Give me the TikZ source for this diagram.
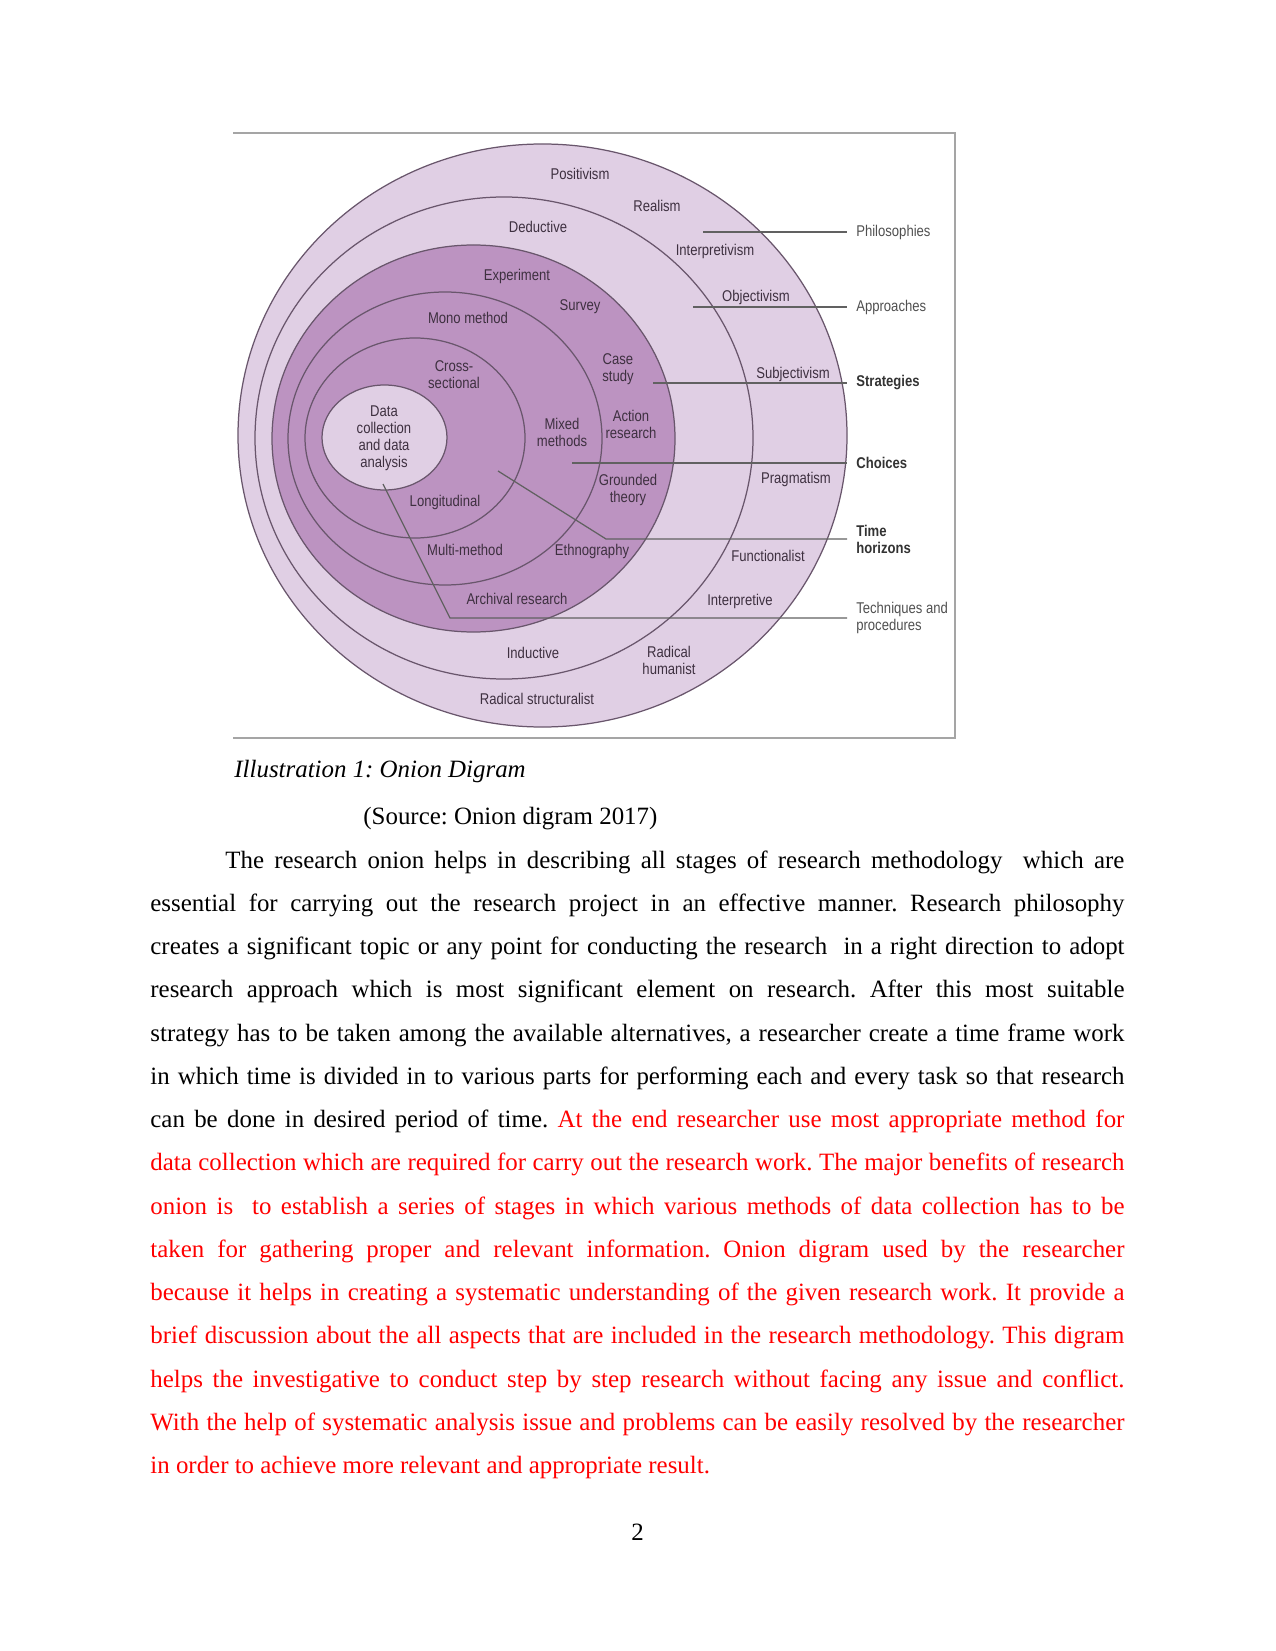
\documentclass[tikz,border=0pt]{standalone}
\usepackage{fontspec}
\setmainfont{Liberation Serif}
\newfontfamily\onionfont[FakeStretch=0.84]{Liberation Sans}
\usepackage{tikz}
\frenchspacing

\definecolor{onionlight}{RGB}{224,207,228}
\definecolor{oniondark}{RGB}{188,147,193}
\definecolor{onionline}{RGB}{105,86,108}
\definecolor{onionlabel}{RGB}{62,48,64}
\definecolor{sidelabel}{RGB}{80,80,80}
\definecolor{framegray}{RGB}{165,165,165}

\newlength\fullline \setlength\fullline{469.3pt}
\newlength\firstline \setlength\firstline{433.1pt}

\tikzset{
  ring/.style={draw=onionline, line width=0.6pt},
  lbl/.style={font=\onionfont\fontsize{7.5}{8.2}\selectfont, text=onionlabel, inner sep=0pt, align=center},
  side/.style={font=\onionfont\fontsize{7.5}{8.2}\selectfont, text=sidelabel, anchor=west, inner sep=4.3pt, align=left},
  leader/.style={draw=black!62, line width=0.6pt},
  body/.style={anchor=base west, inner sep=0pt, font=\fontsize{12}{14}\selectfont},
}

\begin{document}
\begin{tikzpicture}[x=0.4818pt, y=-0.4818pt]
  \useasboundingbox (0,0) rectangle (1275,1651);

  % cadre
  \draw[framegray, line width=1pt] (233,133) -- (955,133) -- (955,738) -- (233,738);

  % couches
  \filldraw[ring, fill=onionlight] (542.5,435.5) ellipse [x radius=304.5, y radius=291.5];
  \filldraw[ring, fill=onionlight] (504,438) ellipse [x radius=249, y radius=241];
  \filldraw[ring, fill=oniondark] (473.5,438.5) ellipse [x radius=201.5, y radius=193.5];
  \filldraw[ring, fill=oniondark] (445,438.5) ellipse [x radius=157, y radius=146.5];
  \filldraw[ring, fill=oniondark] (415,438) ellipse [x radius=110, y radius=100];
  \filldraw[ring, fill=onionlight] (384.5,437.5) ellipse [x radius=62.5, y radius=52.5];

  % legende a droite
  \node[side] (philosophies) at (847,232) {Philosophies};
  \node[side] (approaches) at (847,307) {Approaches};
  \node[side, text=black!80, font=\onionfont\bfseries\fontsize{7.5}{8.2}\selectfont] (strategies) at (847,383) {Strategies};
  \node[side, text=black!80, font=\onionfont\bfseries\fontsize{7.5}{8.2}\selectfont] (choices) at (847,463) {Choices};
  \node[side, text=black!80, font=\onionfont\bfseries\fontsize{7.5}{8.2}\selectfont] (horizons) at (847,539) {Time\\horizons};
  \node[side] (techniques) at (847,618) {Techniques and\\procedures};

  % traits
  \coordinate (phil-in) at (703,232);
  \coordinate (appr-in) at (693,307);
  \coordinate (strat-in) at (653,383);
  \coordinate (choice-in) at (572,463);
  \coordinate (time-in) at (498,471);
  \coordinate (time-bend) at (606,539);
  \coordinate (tech-in) at (383,484);
  \coordinate (tech-bend) at (450,618);
  \draw[leader] (phil-in) -- (philosophies.west);
  \draw[leader] (appr-in) -- (approaches.west);
  \draw[leader] (strat-in) -- (strategies.west);
  \draw[leader] (choice-in) -- (choices.west);
  \draw[leader] (time-in) -- (time-bend) -- (horizons.west);
  \draw[leader] (tech-in) -- (tech-bend) -- (techniques.west);

  % philosophies
  \node[lbl] (positivism) at (580,174) {Positivism};
  \node[lbl] (realism) at (657,206) {Realism};
  \node[lbl] (interpretivism) at (715,251) {Interpretivism};
  \node[lbl] (objectivism) at (756,297) {Objectivism};
  \node[lbl] (subjectivism) at (793,374) {Subjectivism};
  \node[lbl] (pragmatism) at (796,479) {Pragmatism};
  \node[lbl] (functionalist) at (768,556) {Functionalist};
  \node[lbl] (interpretive) at (740,601) {Interpretive};
  \node[lbl] (radhumanist) at (669,660) {Radical\\humanist};
  \node[lbl] (radstruct) at (537,699) {Radical structuralist};

  % approaches
  \node[lbl] (deductive) at (538,227) {Deductive};
  \node[lbl] (inductive) at (533,653) {Inductive};

  % strategies
  \node[lbl] (experiment) at (517,276) {Experiment};
  \node[lbl] (survey) at (580,307) {Survey};
  \node[lbl] (casestudy) at (618,369) {Case\\study};
  \node[lbl] (action) at (631,424) {Action\\research};
  \node[lbl] (grounded) at (628,490) {Grounded\\theory};
  \node[lbl] (ethno) at (592,551) {Ethnography};
  \node[lbl] (archival) at (517,599) {Archival research};

  % choices
  \node[lbl] (mono) at (468,318) {Mono method};
  \node[lbl] (mixed) at (562,432) {Mixed\\methods};
  \node[lbl] (multi) at (465,550) {Multi-method};

  % time horizons
  \node[lbl] (cross) at (454,375) {Cross-\\sectional};
  \node[lbl] (longitudinal) at (445,502) {Longitudinal};

  % centre
  \node[lbl] (datacoll) at (384,438) {Data\\collection\\and data\\analysis};

  % legende de la figure
  \node[body] (caption) at (234,777) {\itshape Illustration 1: Onion Digram};
  \node[body] (source) at (363,824) {(Source: Onion digram 2017)};

  % texte
  \node[body] (l1) at (225,868) {\makebox[\firstline][s]{The research onion helps in describing all stages of research methodology\ \ which are}};
  \node[body] (l2) at (150,911.25) {\makebox[\fullline][s]{essential for carrying out the research project in an effective manner. Research philosophy}};
  \node[body] (l3) at (150,954.5) {\makebox[\fullline][s]{creates a significant topic or any point for conducting the research\ \ in a right direction to adopt}};
  \node[body] (l4) at (150,997.75) {\makebox[\fullline][s]{research approach which is most significant element on research. After this most suitable}};
  \node[body] (l5) at (150,1041) {\makebox[\fullline][s]{strategy has to be taken among the available alternatives, a researcher create a time frame work}};
  \node[body] (l6) at (150,1084.25) {\makebox[\fullline][s]{in which time is divided in to various parts for performing each and every task so that research}};
  \node[body] (l7) at (150,1127.5) {\makebox[\fullline][s]{can be done in desired period of time. \color{red}At the end researcher use most appropriate method for}};
  \node[body, text=red] (l8) at (150,1170.75) {\makebox[\fullline][s]{data collection which are required for carry out the research work. The major benefits of research}};
  \node[body, text=red] (l9) at (150,1214) {\makebox[\fullline][s]{onion is\ \ to establish a series of stages in which various methods of data collection has to be}};
  \node[body, text=red] (l10) at (150,1257.25) {\makebox[\fullline][s]{taken for gathering proper and relevant information. Onion digram used by the researcher}};
  \node[body, text=red] (l11) at (150,1300.5) {\makebox[\fullline][s]{because it helps in creating a systematic understanding of the given research work. It provide a}};
  \node[body, text=red] (l12) at (150,1343.75) {\makebox[\fullline][s]{brief discussion about the all aspects that are included in the research methodology. This digram}};
  \node[body, text=red] (l13) at (150,1387) {\makebox[\fullline][s]{helps the investigative to conduct step by step research without facing any issue and conflict.}};
  \node[body, text=red] (l14) at (150,1430.25) {\makebox[\fullline][s]{With the help of systematic analysis issue and problems can be easily resolved by the researcher}};
  \node[body, text=red] (l15) at (150,1473.5) {in order to achieve more relevant and appropriate result.};

  % numero de page
  \node[anchor=base, inner sep=0pt, font=\fontsize{12}{14}\selectfont] (pagenum) at (637.5,1540) {2};
\end{tikzpicture}
\end{document}
